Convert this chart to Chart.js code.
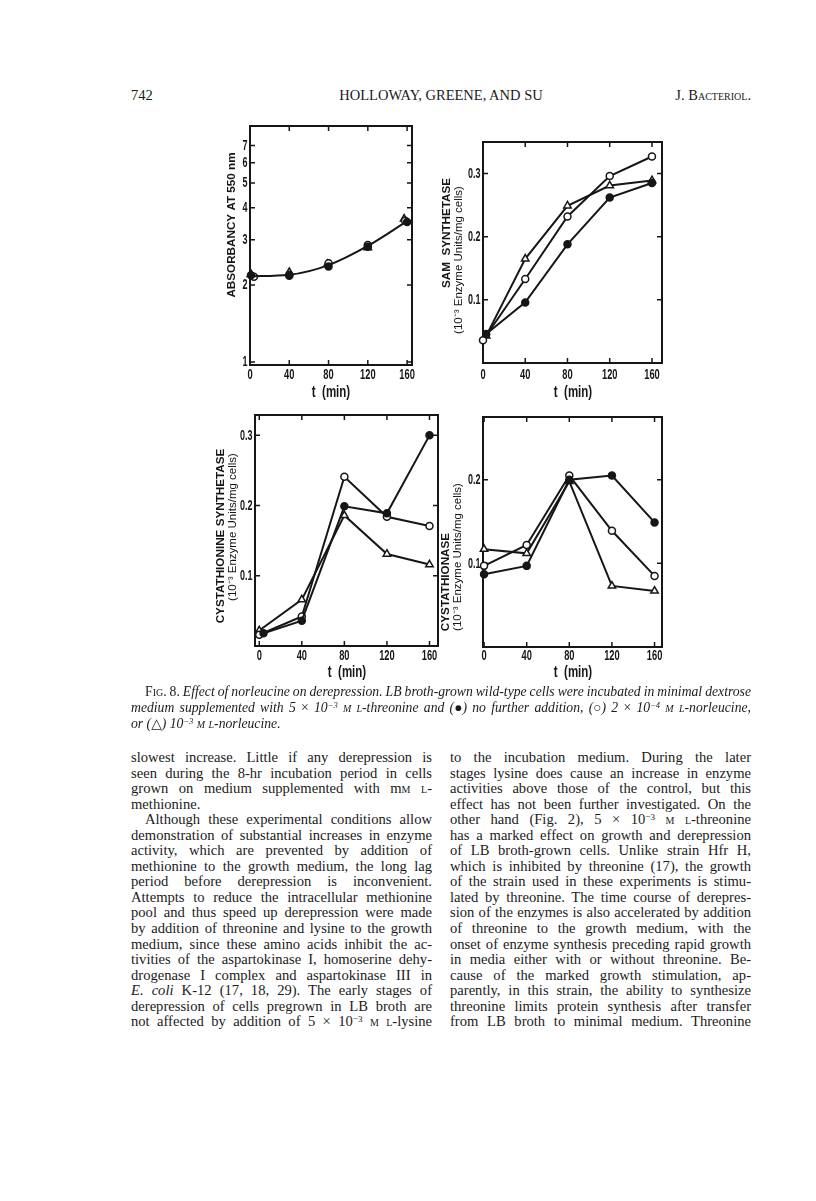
<!DOCTYPE html>
<html>
<head>
<meta charset="utf-8">
<title>Fig. 8</title>
<script src="https://cdn.jsdelivr.net/npm/chart.js@4.4.1/dist/chart.umd.min.js"></script>
<style>
  html, body { margin: 0; padding: 0; background: #fff; }
  body { width: 816px; height: 1201px; position: relative; overflow: hidden;
         font-family: "Liberation Serif", "DejaVu Serif", serif; color: #1b1b1b; }
  .plot { position: absolute; }
  .hdr { position: absolute; top: 87px; font-size: 14.5px; line-height: 17px; white-space: nowrap; }
  .sc { font-variant: small-caps; }
  .sup { font-size: 0.62em; vertical-align: 0.45em; line-height: 0; }
  .up { font-style: normal; }
  .caption { position: absolute; left: 131px; top: 684px; width: 620px; font-size: 13.7px;
             line-height: 16px; font-style: italic; }
  .col { position: absolute; top: 750px; width: 301px; font-size: 14.6px; line-height: 15.55px; }
  .col div, .caption div { white-space: nowrap; height: 15.55px; }
  .caption div { height: 16px; }
  .ind { padding-left: 14px; }
</style>
</head>
<body>

<div class="hdr" style="left:131px">742</div>
<div class="hdr" style="left:441px;transform:translateX(-50%)">HOLLOWAY, GREENE, AND SU</div>
<div class="hdr" style="right:65px">J. B<span class="sc">acteriol</span>.</div>

<canvas id="absChart" class="plot"></canvas>
<canvas id="samChart" class="plot"></canvas>
<canvas id="cysChart" class="plot"></canvas>
<canvas id="cynChart" class="plot"></canvas>

<div class="caption">
  <div class="ind fit"><span class="up">F<span class="sc">ig</span>. 8.</span> Effect of norleucine on derepression. LB broth-grown wild-type cells were incubated in minimal dextrose</div>
  <div class="fit">medium supplemented with 5 <span class="up">×</span> 10<span class="sup">−3</span> <span class="sc">m l</span>-threonine and (<span class="up">●</span>) no further addition, (<span class="up">○</span>) 2 <span class="up">×</span> 10<span class="sup">−4</span> <span class="sc">m l</span>-norleucine,</div>
  <div>or (<span class="up">△</span>) 10<span class="sup">−3</span> <span class="sc">m l</span>-norleucine.</div>
</div>

<div class="col" style="left:131px">
  <div class="fit">slowest increase. Little if any derepression is</div>
  <div class="fit">seen during the 8-hr incubation period in cells</div>
  <div class="fit">grown on medium supplemented with m<span class="sc">m l</span>-</div>
  <div>methionine.</div>
  <div class="ind fit">Although these experimental conditions allow</div>
  <div class="fit">demonstration of substantial increases in enzyme</div>
  <div class="fit">activity, which are prevented by addition of</div>
  <div class="fit">methionine to the growth medium, the long lag</div>
  <div class="fit">period before derepression is inconvenient.</div>
  <div class="fit">Attempts to reduce the intracellular methionine</div>
  <div class="fit">pool and thus speed up derepression were made</div>
  <div class="fit">by addition of threonine and lysine to the growth</div>
  <div class="fit">medium, since these amino acids inhibit the ac-</div>
  <div class="fit">tivities of the aspartokinase I, homoserine dehy-</div>
  <div class="fit">drogenase I complex and aspartokinase III in</div>
  <div class="fit"><i>E. coli</i> K-12 (17, 18, 29). The early stages of</div>
  <div class="fit">derepression of cells pregrown in LB broth are</div>
  <div class="fit">not affected by addition of 5 × 10<span class="sup">−3</span> <span class="sc">m l</span>-lysine</div>
</div>

<div class="col" style="left:450px">
  <div class="fit">to the incubation medium. During the later</div>
  <div class="fit">stages lysine does cause an increase in enzyme</div>
  <div class="fit">activities above those of the control, but this</div>
  <div class="fit">effect has not been further investigated. On the</div>
  <div class="fit">other hand (Fig. 2), 5 × 10<span class="sup">−3</span> <span class="sc">m l</span>-threonine</div>
  <div class="fit">has a marked effect on growth and derepression</div>
  <div class="fit">of LB broth-grown cells. Unlike strain Hfr H,</div>
  <div class="fit">which is inhibited by threonine (17), the growth</div>
  <div class="fit">of the strain used in these experiments is stimu-</div>
  <div class="fit">lated by threonine. The time course of derepres-</div>
  <div class="fit">sion of the enzymes is also accelerated by addition</div>
  <div class="fit">of threonine to the growth medium, with the</div>
  <div class="fit">onset of enzyme synthesis preceding rapid growth</div>
  <div class="fit">in media either with or without threonine. Be-</div>
  <div class="fit">cause of the marked growth stimulation, ap-</div>
  <div class="fit">parently, in this strain, the ability to synthesize</div>
  <div class="fit">threonine limits protein synthesis after transfer</div>
  <div class="fit">from LB broth to minimal medium. Threonine</div>
</div>

<script>
const INK = '#161616';
const minutes = [0, 40, 80, 120, 160];

// absorbancy at 550 nm (log axis)
const absTicks = [1, 2, 3, 4, 5, 6, 7];
const absNoneT = [1, 40, 80, 120, 160];
const absNone  = [2.18, 2.17, 2.36, 2.82, 3.52];
const absNle4T = [4, 40, 80, 120, 158];
const absNle4  = [2.15, 2.19, 2.43, 2.86, 3.56];
const absNle3T = [1, 40, 79, 120, 157];
const absNle3  = [2.2, 2.24, 2.41, 2.8, 3.62];
const absFit   = [2.16, 2.19, 2.39, 2.84, 3.55];

// SAM synthetase
const enzTicks3 = [0.1, 0.2, 0.3];
const samNoneT = [3, 40, 80, 120, 160];
const samNone  = [0.046, 0.096, 0.188, 0.262, 0.285];
const samNle4T = [0, 40, 80, 120, 160];
const samNle4  = [0.036, 0.133, 0.232, 0.296, 0.327];
const samNle3T = [3, 40, 80, 120, 160];
const samNle3  = [0.043, 0.165, 0.249, 0.281, 0.289];

// cystathionine synthetase
const cysNoneT = [4, 40, 80, 120, 160];
const cysNone  = [0.018, 0.036, 0.199, 0.189, 0.300];
const cysNle4  = [0.016, 0.042, 0.241, 0.184, 0.171];
const cysNle3  = [0.022, 0.066, 0.186, 0.131, 0.116];

// cystathionase
const enzTicks2 = [0.1, 0.2];
const cynNone = [0.087, 0.097, 0.200, 0.205, 0.149];
const cynNle4 = [0.097, 0.122, 0.205, 0.139, 0.085];
const cynNle3 = [0.117, 0.112, 0.198, 0.073, 0.067];

const TICK = "bold 15px 'Liberation Sans', Arial, sans-serif";
const BOLD = "bold 11.7px 'Liberation Sans', Arial, sans-serif";
const REG = "11.5px 'Liberation Sans', Arial, sans-serif";
const XT = "bold 16px 'Liberation Sans', Arial, sans-serif";
const UNITS = '(10\u207B\u00B3 Enzyme Units/mg cells)';

const NONE = { shape: 'circle', fill: INK, r: 3.5 };
const NLE4 = { shape: 'circle', fill: '#fff', r: 3.5 };
const NLE3 = { shape: 'triangle', fill: '#fff', r: 4.3 };

const PAD_L = 70, PAD_T = 12, PAD_R = 14, PAD_B = 48;

function series(xs, ys, st, line) {
  return {
    data: ys.map((y, i) => ({ x: xs[i], y: y })),
    showLine: line,
    borderColor: INK,
    borderWidth: 2,
    pointStyle: st.shape,
    pointRadius: st.r,
    pointBackgroundColor: st.fill,
    pointBorderColor: INK,
    pointBorderWidth: 1.5,
    clip: false
  };
}

// squeezed text, like the narrow lettering of the figure
function narrowText(ctx, text, x, y, font, sx, align, rot) {
  ctx.save();
  ctx.font = font;
  ctx.textAlign = align;
  ctx.textBaseline = 'middle';
  ctx.translate(x, y);
  if (rot) ctx.rotate(-Math.PI / 2);
  ctx.scale(sx, 1);
  ctx.fillText(text, 0, 0);
  ctx.restore();
}

// frame with inward ticks on all four sides, tick labels and axis titles
const framePlugin = {
  id: 'frame',
  beforeDatasetsDraw(chart) {
    const ctx = chart.ctx, a = chart.chartArea, L = 5;
    ctx.save();
    ctx.strokeStyle = INK;
    ctx.lineWidth = 2;
    ctx.strokeRect(a.left, a.top, a.right - a.left, a.bottom - a.top);
    ctx.lineWidth = 1.5;
    ctx.beginPath();
    const sx = chart.scales.x, sy = chart.scales.y;
    sx.ticks.forEach(t => {
      const p = sx.getPixelForValue(t.value);
      ctx.moveTo(p, a.bottom); ctx.lineTo(p, a.bottom - L);
      ctx.moveTo(p, a.top); ctx.lineTo(p, a.top + L);
    });
    sy.ticks.forEach(t => {
      const p = sy.getPixelForValue(t.value);
      ctx.moveTo(a.left, p); ctx.lineTo(a.left + L, p);
      ctx.moveTo(a.right, p); ctx.lineTo(a.right - L, p);
    });
    ctx.stroke();
    ctx.restore();
  },
  afterDraw(chart, args, opts) {
    const ctx = chart.ctx, a = chart.chartArea;
    const sx = chart.scales.x, sy = chart.scales.y;
    ctx.save();
    ctx.fillStyle = INK;
    sx.ticks.forEach(t => {
      narrowText(ctx, String(t.value), sx.getPixelForValue(t.value), a.bottom + opts.xLabelGap,
                 TICK, 0.62, 'center', false);
    });
    sy.ticks.forEach(t => {
      narrowText(ctx, opts.yFmt(t.value), a.left - 2.5, sy.getPixelForValue(t.value),
                 TICK, 0.6, 'right', false);
    });
    opts.titles.forEach(t => {
      narrowText(ctx, t.text, t.x - opts.ox, t.y - opts.oy, t.font, t.sx || 1, 'center', t.rot);
    });
    ctx.restore();
  }
};

function makePlot(id, frame, cfg) {
  const cv = document.getElementById(id);
  const ox = frame.l - PAD_L, oy = frame.t - PAD_T;
  cv.width = frame.r - frame.l + PAD_L + PAD_R;
  cv.height = frame.b - frame.t + PAD_T + PAD_B;
  cv.style.left = ox + 'px';
  cv.style.top = oy + 'px';
  return new Chart(cv, {
    type: 'scatter',
    data: { datasets: cfg.datasets },
    options: {
      responsive: false,
      animation: false,
      devicePixelRatio: 1,
      layout: { padding: { top: PAD_T, right: PAD_R, left: 0, bottom: 0 } },
      plugins: {
        legend: { display: false },
        tooltip: { enabled: false },
        frame: { ox: ox, oy: oy, titles: cfg.titles, yFmt: cfg.yFmt, xLabelGap: cfg.xLabelGap }
      },
      scales: {
        x: {
          type: 'linear', min: cfg.xMin, max: cfg.xMax, bounds: 'data',
          grid: { display: false, drawTicks: false },
          border: { display: false },
          ticks: { display: false },
          afterBuildTicks: s => { s.ticks = minutes.map(v => ({ value: v })); },
          afterFit: s => { s.height = PAD_B; }
        },
        y: {
          type: cfg.yType, min: cfg.yMin, max: cfg.yMax, bounds: 'data',
          grid: { display: false, drawTicks: false },
          border: { display: false },
          ticks: { display: false },
          afterBuildTicks: s => { s.ticks = cfg.yTicks.map(v => ({ value: v })); },
          afterFit: s => { s.width = PAD_L; }
        }
      }
    },
    plugins: [framePlugin]
  });
}

const fmt1 = v => v.toFixed(1);

makePlot('absChart', { l: 250, t: 126, r: 412, b: 365 }, {
  xMin: 0, xMax: 165, yType: 'logarithmic', yMin: 0.973, yMax: 8.35,
  yTicks: absTicks, yFmt: v => String(v), xLabelGap: 10,
  datasets: [
    Object.assign(series(minutes, absFit, { shape: 'circle', fill: INK, r: 0 }, true),
                  { cubicInterpolationMode: 'monotone' }),
    series(absNoneT, absNone, NONE, false),
    series(absNle4T, absNle4, NLE4, false),
    series(absNle3T, absNle3, NLE3, false)
  ],
  titles: [
    { text: 'ABSORBANCY AT 550 nm', x: 232, y: 225, rot: true, font: BOLD },
    { text: 't  (min)', x: 331, y: 393, font: XT, sx: 0.72 }
  ]
});

makePlot('samChart', { l: 483, t: 142, r: 662, b: 363 }, {
  xMin: 0, xMax: 169.5, yType: 'linear', yMin: 0, yMax: 0.35,
  yTicks: enzTicks3, yFmt: fmt1, xLabelGap: 12,
  datasets: [
    series(samNoneT, samNone, NONE, true),
    series(samNle4T, samNle4, NLE4, true),
    series(samNle3T, samNle3, NLE3, true)
  ],
  titles: [
    { text: 'SAM  SYNTHETASE', x: 447, y: 233, rot: true, font: BOLD },
    { text: UNITS, x: 459, y: 260, rot: true, font: REG },
    { text: 't  (min)', x: 573, y: 393, font: XT, sx: 0.72 }
  ]
});

makePlot('cysChart', { l: 255, t: 415, r: 438, b: 646 }, {
  xMin: -4, xMax: 168, yType: 'linear', yMin: 0, yMax: 0.329,
  yTicks: enzTicks3, yFmt: fmt1, xLabelGap: 10,
  datasets: [
    series(cysNoneT, cysNone, NONE, true),
    series(minutes, cysNle4, NLE4, true),
    series(minutes, cysNle3, NLE3, true)
  ],
  titles: [
    { text: 'CYSTATHIONINE SYNTHETASE', x: 221, y: 536, rot: true, font: BOLD },
    { text: UNITS, x: 233, y: 527, rot: true, font: REG },
    { text: 't  (min)', x: 347, y: 673, font: XT, sx: 0.72 }
  ]
});

makePlot('cynChart', { l: 483, t: 417, r: 662, b: 647 }, {
  xMin: -1, xMax: 167, yType: 'linear', yMin: 0, yMax: 0.275,
  yTicks: enzTicks2, yFmt: fmt1, xLabelGap: 9,
  datasets: [
    series(minutes, cynNone, NONE, true),
    series(minutes, cynNle4, NLE4, true),
    series(minutes, cynNle3, NLE3, true)
  ],
  titles: [
    { text: 'CYSTATHIONASE', x: 446, y: 582, rot: true, font: BOLD },
    { text: UNITS, x: 458, y: 557, rot: true, font: REG },
    { text: 't  (min)', x: 573, y: 673, font: XT, sx: 0.72 }
  ]
});

// justify each typeset line to its column width by adjusting word spacing
document.querySelectorAll('.fit').forEach(d => {
  const span = document.createElement('span');
  while (d.firstChild) span.appendChild(d.firstChild);
  d.appendChild(span);
  const cs = getComputedStyle(d);
  const target = d.clientWidth - parseFloat(cs.paddingLeft) - parseFloat(cs.paddingRight);
  const gaps = (span.textContent.trim().match(/\s+/g) || []).length;
  const natural = span.getBoundingClientRect().width;
  if (gaps) span.style.wordSpacing = ((target - natural) / gaps) + 'px';
});
</script>
</body>
</html>
